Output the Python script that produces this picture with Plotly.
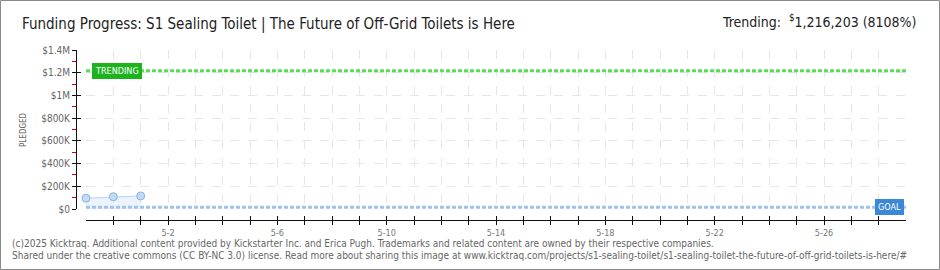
import plotly.graph_objects as go

# ---- data ----
dates = ["2025-04-29", "2025-04-30", "2025-05-01"]
pledged = [95000, 108000, 115000]
goal = 15000
trending = 1216203
x_start = "2025-04-29"
x_end = "2025-05-29"
day_ticks = ["2025-04-%02d" % d for d in (29, 30)] + ["2025-05-%02d" % d for d in range(1, 30)]
label_days = ["2025-05-02", "2025-05-06", "2025-05-10", "2025-05-14",
              "2025-05-18", "2025-05-22", "2025-05-26"]
label_text = ["5-2", "5-6", "5-10", "5-14", "5-18", "5-22", "5-26"]
y_tickvals = [0, 200000, 400000, 600000, 800000, 1000000, 1200000, 1400000]
y_ticktext = ["$0", "$200K", "$400K", "$600K", "$800K", "$1M", "$1.2M", "$1.4M"]

W, H = 940, 270
L, R, T, B = 76, 34, 50, 50
PW, PH = W - L - R, H - T - B

def px(p):
    return (p - L) / PW

def py(p):
    return (H - B - p) / PH

font_tick = "DejaVu Sans Condensed, DejaVu Sans, sans-serif"
font_title = "DejaVu Sans Condensed, Roboto, sans-serif"

fig = go.Figure()
fig.add_trace(go.Scatter(
    x=dates, y=pledged, mode="lines+markers",
    line=dict(color="#b8d3f2", width=1),
    fill="tozeroy", fillcolor="rgba(200,222,248,0.35)",
    marker=dict(size=8, color="#c3dbf6", line=dict(color="#8db3e2", width=1)),
    cliponaxis=False, hoverinfo="x+y", showlegend=False,
))
# invisible helper trace for overlay axes
fig.add_trace(go.Scatter(x=[x_start], y=[0], xaxis="x2", yaxis="y2",
                         mode="markers", marker=dict(opacity=0), showlegend=False,
                         hoverinfo="skip"))

# goal and trending lines
fig.add_shape(type="line", xref="x domain", x0=0, x1=1, yref="y", y0=goal, y1=goal,
              line=dict(color="#9fc4ec", width=3, dash="4px,2px"))
fig.add_shape(type="line", xref="x domain", x0=0, x1=1, yref="y", y0=trending, y1=trending,
              line=dict(color="#5ade5a", width=3, dash="4px,2px"))

# outer frame
fig.add_shape(type="rect", xref="paper", yref="paper",
              x0=px(0.5), x1=px(939.5), y0=py(269.5), y1=py(0.5),
              line=dict(color="#8a8a8a", width=1), layer="below")

fig.add_annotation(xref="x domain", yref="y", x=6 / (PW - 10), y=trending,
                   xanchor="left", yanchor="middle", text="TRENDING", showarrow=False,
                   font=dict(family=font_tick, size=9, color="white"),
                   bgcolor="#1db31d", borderpad=2, bordercolor="#1db31d")
fig.add_annotation(xref="x domain", yref="y", x=(904 - 86) / (PW - 10), y=goal,
                   xanchor="right", yanchor="middle", text="GOAL", showarrow=False,
                   font=dict(family=font_tick, size=9, color="white"),
                   bgcolor="#3b88d8", borderpad=2, bordercolor="#3b88d8")

# title texts
fig.add_annotation(xref="paper", yref="paper", x=px(20), y=py(24), xanchor="left", yanchor="middle",
                   text="Funding Progress: S1 Sealing Toilet | The Future of Off-Grid Toilets is Here",
                   showarrow=False, font=dict(family=font_title, size=15, color="#222"))
fig.add_annotation(xref="paper", yref="paper", x=px(919), y=py(21), xanchor="right", yanchor="middle",
                   text="Trending:  <sup>$</sup>1,216,203 (8108%)",
                   showarrow=False, font=dict(family=font_title, size=14, color="#222"))
fig.add_annotation(xref="paper", yref="paper", x=px(23), y=py(130), xanchor="center", yanchor="middle",
                   text="PLEDGED", textangle=-90, showarrow=False,
                   font=dict(family=font_tick, size=8, color="#666"))
fig.add_annotation(xref="paper", yref="paper", x=px(10), y=py(243), xanchor="left", yanchor="middle",
                   text="(c)2025 Kicktraq. Additional content provided by Kickstarter Inc. and Erica Pugh. Trademarks and related content are owned by their respective companies.",
                   showarrow=False, font=dict(family=font_tick, size=10, color="#666"))
fig.add_annotation(xref="paper", yref="paper", x=px(10), y=py(256), xanchor="left", yanchor="middle",
                   text="Shared under the creative commons (CC BY-NC 3.0) license. Read more about sharing this image at www.kicktraq.com/projects/s1-sealing-toilet/s1-sealing-toilet-the-future-of-off-grid-toilets-is-here/#",
                   showarrow=False, font=dict(family=font_tick, size=10, color="#666"))

xdom = [10 / PW, 1]
ydom = [11 / PH, 1]
common_x = dict(type="date", range=[x_start, x_end], domain=xdom, anchor="free", position=0)
common_y = dict(range=[0, 1400000], domain=ydom, anchor="free", position=0)

fig.update_layout(
    width=W, height=H, margin=dict(l=L, r=R, t=T, b=B),
    paper_bgcolor="white", plot_bgcolor="white",
    # main x axis: labels every 4 days, no ticks (ticks drawn by overlay axes)
    xaxis=dict(**common_x, tickmode="array", tickvals=label_days, ticktext=label_text,
               ticks="outside", ticklen=4, tickcolor="#111", tickwidth=1,
               showline=True, linecolor="#111", linewidth=1,
               showgrid=False,
               tickfont=dict(family=font_tick, size=9, color="#777"), zeroline=False),
    # overlay x axis: daily ticks crossing the line + daily dashed grid
    xaxis2=dict(**common_x, overlaying="x", tickmode="array", tickvals=day_ticks,
                showticklabels=False, ticks="inside", ticklen=4, tickcolor="#111",
                showgrid=True, gridcolor="#e6e6e6", griddash="dash", gridwidth=1,
                showline=False, zeroline=False,
                minor=dict(tickvals=day_ticks, ticks="outside", ticklen=4, tickcolor="#111")),
    yaxis=dict(**common_y, tickmode="array", tickvals=y_tickvals, ticktext=y_ticktext,
               ticks="outside", ticklen=4, tickcolor="#111",
               showline=True, linecolor="#111", linewidth=1,
               showgrid=True, gridcolor="#e6e6e6", griddash="dash", zeroline=False,
               minor=dict(dtick=100000, tick0=0, ticks="outside", ticklen=4,
                          tickcolor="#e00000", showgrid=False),
               tickfont=dict(family=font_tick, size=10, color="#666")),
    yaxis2=dict(**common_y, overlaying="y", tickmode="array", tickvals=y_tickvals,
                showticklabels=False, ticks="inside", ticklen=4, tickcolor="#111",
                showgrid=False, showline=False, zeroline=False),
    showlegend=False,
)

fig.write_html("out.html")
